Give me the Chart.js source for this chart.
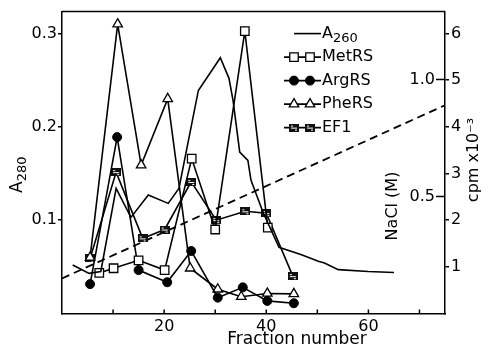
<!DOCTYPE html>
<html>
<head>
<meta charset="utf-8">
<script src="https://cdn.jsdelivr.net/npm/chart.js@4.4.1/dist/chart.umd.min.js"></script>
<style>
  html, body { margin: 0; padding: 0; background: #fff; }
  canvas { display: block; }
</style>
</head>
<body>
<canvas id="fractions" width="482" height="355"></canvas>
<script>
// A260 trace, read against the left (A280) axis
const a260Fraction = [2.1, 5.3, 7.6, 10.6, 13.5, 16.9, 20.8, 22.9, 26.7, 31.0, 32.7, 33.5, 34.8, 36.4, 37.0, 39.4, 42.5, 46.9, 50.2, 51.4, 54.1, 60.0, 65.0];
const a260Values = [0.052, 0.043, 0.045, 0.134, 0.103, 0.127, 0.118, 0.134, 0.239, 0.274, 0.252, 0.228, 0.173, 0.164, 0.143, 0.108, 0.071, 0.063, 0.056, 0.054, 0.047, 0.045, 0.044];

// enzyme activities, cpm x 10^-3 (right axis)
const metFraction = [7.3, 10.1, 15.0, 20.1, 25.4, 30.0, 35.8, 40.3];
const metCpm = [0.87, 0.97, 1.14, 0.93, 3.32, 1.80, 6.05, 1.84];
const argFraction = [5.5, 10.8, 15.0, 20.6, 25.3, 30.5, 35.4, 40.2, 45.4];
const argCpm = [0.63, 3.78, 0.93, 0.67, 1.34, 0.34, 0.56, 0.27, 0.22];
const pheFraction = [5.5, 10.9, 15.5, 20.7, 25.1, 30.5, 35.1, 40.2, 45.4];
const pheCpm = [1.20, 6.20, 3.18, 4.60, 0.97, 0.52, 0.36, 0.43, 0.42];
const ef1Fraction = [5.5, 10.6, 15.8, 20.1, 25.3, 30.2, 35.9, 40.0, 45.2];
const ef1Cpm = [1.18, 3.03, 1.61, 1.80, 2.82, 2.00, 2.19, 2.15, 0.80];

// salt gradient, NaCl (M)
const naclFraction = [0, 75];
const naclValues = [0.15, 0.89];

// ticks
const xTicks = [10, 20, 30, 40, 50, 60, 70];
const xLabels = [20, 40, 60];
const a280Ticks = [0.1, 0.2, 0.3];
const cpmTicks = [1, 2, 3, 4, 5, 6];
const naclTicks = [0.5, 1.0];

const FONT = 'DejaVu Sans';
Chart.defaults.font.family = FONT;
Chart.defaults.color = '#000';

function points(xs, ys) {
    return xs.map((x, i) => ({ x: x, y: ys[i] }));
}

// hatched square used for EF1
const ef1Marker = document.createElement('canvas');
ef1Marker.width = 10;
ef1Marker.height = 8;
(function () {
    const c = ef1Marker.getContext('2d');
    c.fillStyle = '#111';
    c.fillRect(0, 0, 10, 8);
    c.fillStyle = '#fff';
    c.fillRect(2, 4, 6, 1);
    c.fillRect(2, 2, 2, 1);
    c.fillRect(6, 6, 2, 1);
})();

function subText(ctx, main, sub, x, y, size, subSize) {
    // main text followed by a lowered subscript, starting at x
    ctx.font = size + 'px ' + FONT;
    const w = ctx.measureText(main).width;
    ctx.fillText(main, x, y);
    ctx.font = subSize + 'px ' + FONT;
    ctx.fillText(sub, x + w, y + size * 0.3);
    return w + ctx.measureText(sub).width;
}

function rotatedText(ctx, text, x, y, size) {
    ctx.save();
    ctx.translate(x, y);
    ctx.rotate(-Math.PI / 2);
    ctx.font = size + 'px ' + FONT;
    ctx.textAlign = 'center';
    ctx.textBaseline = 'middle';
    ctx.fillText(text, 0, 0);
    ctx.restore();
}

const frameAndLabels = {
    id: 'frameAndLabels',
    afterDraw(chart) {
        const ctx = chart.ctx;
        const a = chart.chartArea;
        const s = chart.scales;
        ctx.save();
        ctx.strokeStyle = '#000';
        ctx.fillStyle = '#000';
        ctx.lineWidth = 1.5;

        // top of the frame
        ctx.beginPath();
        ctx.moveTo(a.left, a.top);
        ctx.lineTo(a.right, a.top);
        ctx.stroke();

        // inward ticks on the fraction axis
        xTicks.forEach(v => {
            const px = s.x.getPixelForValue(v);
            ctx.beginPath();
            ctx.moveTo(px, a.bottom);
            ctx.lineTo(px, a.bottom - 4);
            ctx.stroke();
        });

        // NaCl scale sits inside the right edge
        ctx.font = '16px ' + FONT;
        ctx.textAlign = 'right';
        ctx.textBaseline = 'middle';
        naclTicks.forEach(v => {
            const py = s.nacl.getPixelForValue(v);
            ctx.beginPath();
            ctx.moveTo(a.right - 9, py);
            ctx.lineTo(a.right, py);
            ctx.stroke();
            ctx.fillText(v.toFixed(1), a.right - 10, py);
        });

        // axis titles
        rotatedText(ctx, 'NaCl (M)', a.right - 52, 206, 16);
        rotatedText(ctx, 'cpm x10\u207B\u00B3', 474, 160, 16);

        ctx.textAlign = 'center';
        ctx.textBaseline = 'middle';
        ctx.font = '17px ' + FONT;
        ctx.fillText('Fraction number', 297, 340);

        ctx.save();
        ctx.translate(18, 173);
        ctx.rotate(-Math.PI / 2);
        ctx.textAlign = 'left';
        ctx.textBaseline = 'middle';
        subText(ctx, 'A', '280', -20, 0, 17, 13);
        ctx.restore();

        ctx.restore();
    }
};

const legendBox = {
    id: 'legendBox',
    afterDraw(chart) {
        const ctx = chart.ctx;
        const a = chart.chartArea;
        const lineStart = a.right - 161;
        const lineEnd = a.right - 124;
        const textX = a.right - 123;
        const marks = [a.right - 151, a.right - 135];
        ctx.save();
        chart.data.datasets.forEach((ds, i) => {
            if (!ds.inLegend) return;
            const y = a.top + 22 + i * 23.5;
            ctx.strokeStyle = '#000';
            ctx.lineWidth = 1.6;
            ctx.setLineDash([]);
            ctx.beginPath();
            ctx.moveTo(ds.pointRadius ? lineStart : lineStart + 10, y);
            ctx.lineTo(lineEnd, y);
            ctx.stroke();
            if (ds.pointRadius) {
                marks.forEach(mx => {
                    ctx.fillStyle = ds.pointBackgroundColor;
                    ctx.strokeStyle = ds.pointBorderColor;
                    ctx.lineWidth = ds.pointBorderWidth;
                    Chart.helpers.drawPoint(ctx, {
                        pointStyle: ds.pointStyle,
                        radius: ds.pointRadius,
                        borderWidth: ds.pointBorderWidth,
                        rotation: 0
                    }, mx, y);
                });
            }
            ctx.fillStyle = '#000';
            ctx.textAlign = 'left';
            ctx.textBaseline = 'middle';
            if (ds.subLabel) {
                subText(ctx, ds.label, ds.subLabel, textX, y, 16, 13);
            } else {
                ctx.font = '16px ' + FONT;
                ctx.fillText(ds.label, textX, y);
            }
        });
        ctx.restore();
    }
};

new Chart(document.getElementById('fractions'), {
    type: 'line',
    data: {
        datasets: [
            {
                label: 'A', subLabel: '260', inLegend: true,
                data: points(a260Fraction, a260Values),
                yAxisID: 'y',
                borderColor: '#000', borderWidth: 1.6,
                pointRadius: 0, tension: 0
            },
            {
                label: 'MetRS', inLegend: true,
                data: points(metFraction, metCpm),
                yAxisID: 'cpm',
                borderColor: '#000', borderWidth: 1.6,
                pointStyle: 'rect', pointRadius: 6,
                pointBackgroundColor: '#fff', pointBorderColor: '#000', pointBorderWidth: 1.3
            },
            {
                label: 'ArgRS', inLegend: true,
                data: points(argFraction, argCpm),
                yAxisID: 'cpm',
                borderColor: '#000', borderWidth: 1.6,
                pointStyle: 'circle', pointRadius: 4.5,
                pointBackgroundColor: '#000', pointBorderColor: '#000', pointBorderWidth: 1
            },
            {
                label: 'PheRS', inLegend: true,
                data: points(pheFraction, pheCpm),
                yAxisID: 'cpm',
                borderColor: '#000', borderWidth: 1.6,
                pointStyle: 'triangle', pointRadius: 5.5,
                pointBackgroundColor: '#fff', pointBorderColor: '#000', pointBorderWidth: 1.3
            },
            {
                label: 'EF1', inLegend: true,
                data: points(ef1Fraction, ef1Cpm),
                yAxisID: 'cpm',
                borderColor: '#000', borderWidth: 1.6,
                pointStyle: ef1Marker, pointRadius: 5,
                pointBackgroundColor: '#000', pointBorderColor: '#000', pointBorderWidth: 1
            },
            {
                label: 'NaCl',
                data: points(naclFraction, naclValues),
                yAxisID: 'nacl',
                borderColor: '#000', borderWidth: 1.8, borderDash: [8, 5],
                pointRadius: 0
            }
        ]
    },
    options: {
        responsive: false,
        animation: false,
        layout: { padding: { top: 11, left: 0, right: 0, bottom: 0 } },
        plugins: {
            legend: { display: false },
            tooltip: { enabled: false }
        },
        scales: {
            x: {
                type: 'linear',
                min: 0, max: 75,
                afterBuildTicks: s => { s.ticks = xTicks.map(v => ({ value: v })); },
                ticks: {
                    callback: v => xLabels.includes(v) ? String(v) : '',
                    font: { size: 16 }, padding: 4,
                    maxRotation: 0, autoSkip: false
                },
                grid: { drawOnChartArea: false, drawTicks: false },
                border: { color: '#000', width: 1.5 },
                afterFit: s => { s.height = 41.5; }
            },
            y: {
                position: 'left',
                min: 0, max: 0.3235,
                afterBuildTicks: s => { s.ticks = a280Ticks.map(v => ({ value: v })); },
                ticks: { callback: v => v.toFixed(1), font: { size: 16 }, padding: 1 },
                grid: { drawOnChartArea: false, tickLength: 4, color: '#000', lineWidth: 1.5 },
                border: { color: '#000', width: 1.5 },
                afterFit: s => { s.width = 62; }
            },
            cpm: {
                position: 'right',
                weight: 1,
                min: 0, max: 6.47,
                afterBuildTicks: s => { s.ticks = cpmTicks.map(v => ({ value: v })); },
                ticks: { callback: v => String(v), font: { size: 16 }, padding: 2 },
                grid: { drawOnChartArea: false, tickLength: 4, color: '#000', lineWidth: 1.5 },
                border: { color: '#000', width: 1.5 },
                afterFit: s => { s.width = 37; }
            },
            nacl: {
                position: 'right',
                display: false,
                min: 0, max: 1.29
            }
        }
    },
    plugins: [frameAndLabels, legendBox]
});
</script>
</body>
</html>
